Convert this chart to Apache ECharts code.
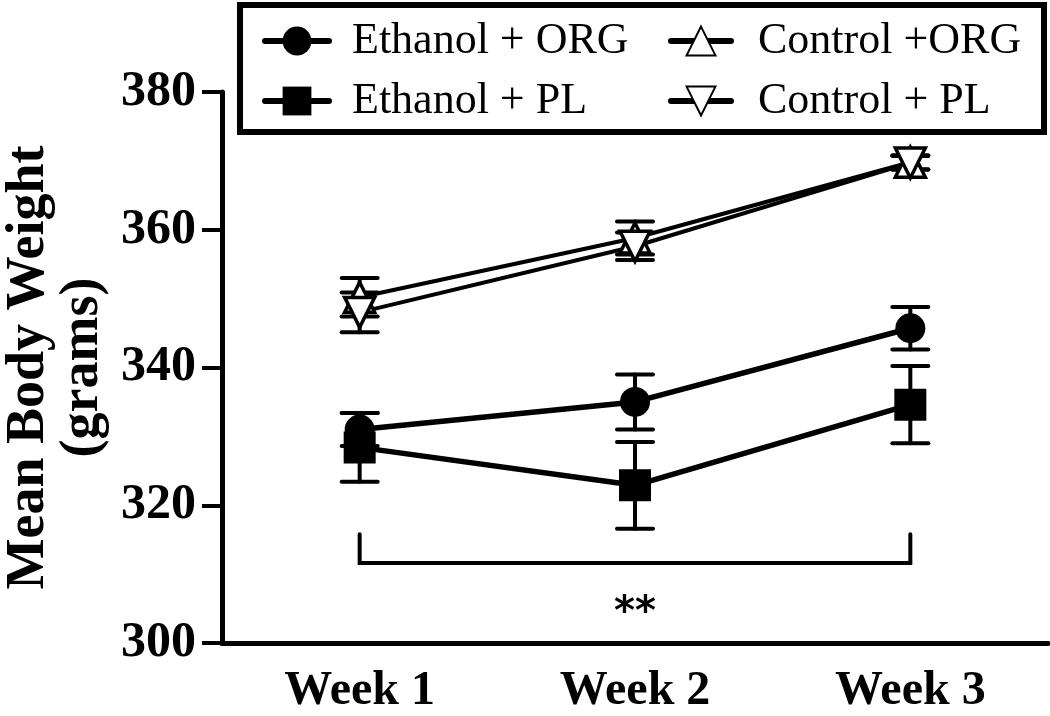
<!DOCTYPE html>
<html><head><meta charset="utf-8">
<script src="https://cdn.jsdelivr.net/npm/echarts@6/dist/echarts.min.js"></script>
<style>html,body{margin:0;padding:0;background:#fff}#c{width:1050px;height:716px}</style>
</head><body><div id="c"></div>
<script>
const categories = ['Week 1', 'Week 2', 'Week 3'];
const yMin = 300, yMax = 380, yStep = 20;
const seriesNames = ['Ethanol + ORG', 'Ethanol + PL', 'Control +ORG', 'Control + PL'];
const ethOrgMean = [331.0, 335.0, 345.7];
const ethOrgSem  = [2.4, 4.0, 3.1];
const ethPlMean  = [328.4, 322.9, 334.6];
const ethPlSem   = [5.0, 6.3, 5.6];
const ctlOrgMean = [350.2, 358.8, 369.8];
const ctlOrgSem  = [2.8, 2.4, 1.0];
const ctlPlMean  = [348.0, 357.6, 369.7];
const ctlPlSem   = [2.9, 2.0, 1.0];
const bracketLow = 311.6, bracketHigh = 315.8;
const sigLabel = '**';
const sigLabelY = 304.3;

const FONT = "'Liberation Serif','Times New Roman',serif";
const downTri = 'path://M0,0 L10,0 L5,10 Z';

function errData(mean, sem) {
  return mean.map((m, i) => [i, m - sem[i], m + sem[i]]);
}
function errSeries(mean, sem) {
  return {
    type: 'custom', z: 1, silent: true,
    data: errData(mean, sem),
    renderItem: function (params, api) {
      const x = api.value(0);
      const lo = api.coord([x, api.value(1)]);
      const hi = api.coord([x, api.value(2)]);
      const hw = 18;
      const st = { stroke: '#000', lineWidth: 4, lineCap: 'round' };
      return { type: 'group', children: [
        { type: 'line', shape: { x1: lo[0], y1: lo[1], x2: hi[0], y2: hi[1] }, style: st },
        { type: 'line', shape: { x1: hi[0] - hw, y1: hi[1], x2: hi[0] + hw, y2: hi[1] }, style: st },
        { type: 'line', shape: { x1: lo[0] - hw, y1: lo[1], x2: lo[0] + hw, y2: lo[1] }, style: st }
      ]};
    }
  };
}
function lineSeries(name, data, symbol, size, fill, lw) {
  return {
    name: name, type: 'line', z: 3, data: data,
    symbol: symbol, symbolSize: size,
    itemStyle: { color: fill, borderColor: '#000', borderWidth: fill === '#fff' ? 3.5 : 0 },
    lineStyle: { color: '#000', width: lw },
    emphasis: { disabled: true }
  };
}
const legendText = { color: '#000', fontFamily: FONT, fontSize: 44 };

const chart = echarts.init(document.getElementById('c'), null, { renderer: 'canvas' });
chart.setOption({
  animation: false,
  backgroundColor: '#fff',
  grid: { left: 222, right: 2, top: 92, bottom: 73, outerBoundsMode: 'none', containLabel: false },
  xAxis: {
    type: 'category', data: categories, boundaryGap: true,
    axisLine: { lineStyle: { color: '#000', width: 5 } },
    axisTick: { alignWithLabel: true, length: 17, lineStyle: { color: '#000', width: 4 } },
    axisLabel: { color: '#000', fontFamily: FONT, fontWeight: 'bold', fontSize: 48, margin: 25 }
  },
  yAxis: {
    type: 'value', min: yMin, max: yMax, interval: yStep,
    splitLine: { show: false },
    axisLine: { show: true, lineStyle: { color: '#000', width: 5 } },
    axisTick: { show: true, length: 20, lineStyle: { color: '#000', width: 4 } },
    axisLabel: { color: '#000', fontFamily: FONT, fontWeight: 'bold', fontSize: 50, margin: 26 },
    name: 'Mean Body Weight\n(grams)', nameLocation: 'middle', nameGap: 110, nameRotate: 90,
    nameTextStyle: { color: '#000', fontFamily: FONT, fontWeight: 'bold', fontSize: 54, lineHeight: 54 }
  },
  legend: [
    { data: [seriesNames[0], seriesNames[1]], orient: 'vertical', left: 257, top: 14,
      itemWidth: 64, itemHeight: 36, itemGap: 16, selectedMode: false,
      lineStyle: { width: 6, color: '#000', cap: 'round' },
      textStyle: Object.assign({ padding: [0, 0, 0, 18] }, legendText) },
    { data: [seriesNames[2], seriesNames[3]], orient: 'vertical', left: 663, top: 14,
      itemWidth: 60, itemHeight: 36, itemGap: 16, selectedMode: false,
      lineStyle: { width: 6, color: '#000', cap: 'round' },
      textStyle: Object.assign({ padding: [0, 0, 0, 22] }, legendText) }
  ],
  graphic: [
    { type: 'rect', left: 237, top: 2, shape: { width: 804, height: 127 },
      style: { fill: 'none', stroke: '#000', lineWidth: 6 }, z: 10 }
  ],
  series: [
    errSeries(ethOrgMean, ethOrgSem),
    errSeries(ethPlMean, ethPlSem),
    errSeries(ctlOrgMean, ctlOrgSem),
    errSeries(ctlPlMean, ctlPlSem),
    lineSeries(seriesNames[0], ethOrgMean, 'circle', 30, '#000', 5.5),
    lineSeries(seriesNames[1], ethPlMean, 'rect', 32, '#000', 5.5),
    lineSeries(seriesNames[2], ctlOrgMean, 'triangle', 30, '#fff', 4),
    lineSeries(seriesNames[3], ctlPlMean, downTri, 30, '#fff', 4),
    {
      type: 'line', z: 2, silent: true, symbol: 'none',
      data: [[0, bracketHigh], [0, bracketLow], [2, bracketLow], [2, bracketHigh]],
      lineStyle: { color: '#000', width: 4, cap: 'round', join: 'miter' }
    },
    {
      type: 'scatter', z: 2, silent: true, symbolSize: 1, itemStyle: { color: '#fff', opacity: 1 },
      data: [[1, sigLabelY]],
      label: { show: true, position: 'inside', formatter: sigLabel, color: '#000', opacity: 1,
        fontFamily: "'DejaVu Sans',sans-serif", fontWeight: 'bold', fontSize: 40 }
    }
  ]
});
</script>
</body></html>
